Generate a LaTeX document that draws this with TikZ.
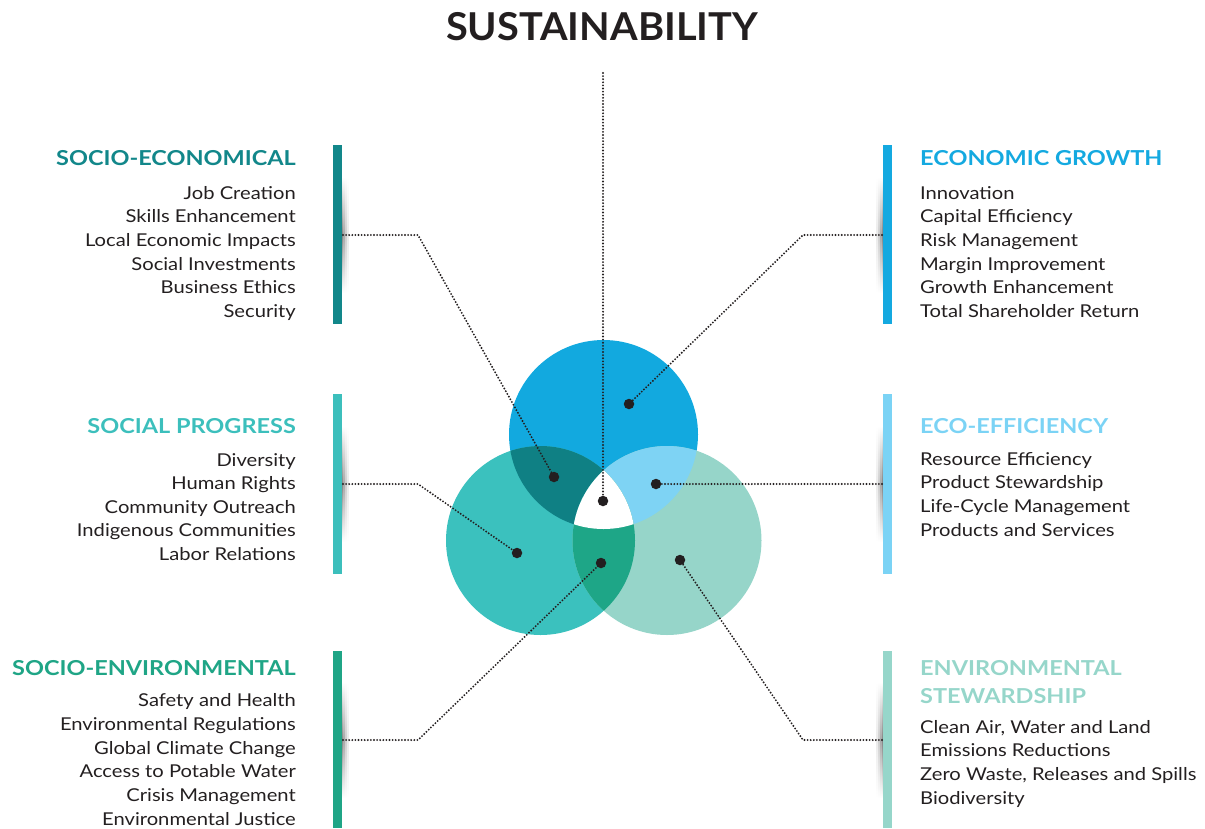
\documentclass[tikz,border=0pt]{standalone}
\usepackage{fontspec}
\setmainfont{Lato}[FakeStretch=1.14]
\newfontfamily\headfont{Lato}[FakeStretch=1.14]
\newfontfamily\titlefont{Lato}[FakeStretch=1.035]
\definecolor{cTop}{HTML}{12A9DF}
\definecolor{cLeft}{HTML}{3BC1BE}
\definecolor{cRight}{HTML}{96D5C9}
\definecolor{cTL}{HTML}{0F8084}
\definecolor{cTR}{HTML}{7ED3F4}
\definecolor{cLR}{HTML}{1EA687}
\definecolor{ink}{HTML}{231F20}
\definecolor{hSE}{HTML}{12878A}
\definecolor{hSP}{HTML}{3CBFBC}
\definecolor{hSV}{HTML}{1FA586}
\definecolor{hEG}{HTML}{14A9E0}
\definecolor{hEE}{HTML}{7BD3F5}
\definecolor{hES}{HTML}{96D6CA}
\tikzset{
  itemL/.style={anchor=base east, inner sep=0pt, text=ink, font=\fontsize{17.7}{20}\selectfont},
  itemR/.style={anchor=base west, inner sep=0pt, text=ink, font=\fontsize{17.7}{20}\selectfont},
  headL/.style={anchor=base east, inner sep=0pt, font=\headfont\bfseries\fontsize{20.6}{22}\selectfont},
  headR/.style={anchor=base west, inner sep=0pt, font=\headfont\bfseries\fontsize{20.6}{22}\selectfont},
  conn/.style={draw=ink, line width=2.1pt, line cap=round, dash pattern=on 0pt off 3.1pt},
  dotn/.style={circle, fill=ink, inner sep=0pt, minimum size=10.5pt},
}
\begin{document}
\begin{tikzpicture}[x=1pt, y=-1pt]
\useasboundingbox (0,0) rectangle (1205,828);
% title
\node[anchor=base, inner sep=0pt, text=ink, font=\titlefont\bfseries\fontsize{38.4}{40}\selectfont] (title) at (602,40) {SUSTAINABILITY};
% Venn circles
\coordinate (T) at (603.5,434.5);
\coordinate (L) at (540.5,540.5);
\coordinate (R) at (667,540.5);
\def\rr{94.5}
\fill[cTop] (T) circle (\rr);
\fill[cLeft] (L) circle (\rr);
\fill[cRight] (R) circle (\rr);
\begin{scope}\clip (T) circle (\rr); \fill[cTL] (L) circle (\rr);\end{scope}
\begin{scope}\clip (T) circle (\rr); \fill[cTR] (R) circle (\rr);\end{scope}
\begin{scope}\clip (L) circle (\rr); \fill[cLR] (R) circle (\rr);\end{scope}
\begin{scope}\clip (T) circle (\rr); \clip (L) circle (\rr); \fill[white] (R) circle (\rr);\end{scope}
% bar shadows
\foreach \y in {235,484,740}{
  \foreach \i/\g in {0/48,1/34,2/20,3/8}{
    \shade[top color=white, bottom color=white, middle color=black!\g] (342+1.6*\i,\y-58) rectangle (343.8+1.6*\i,\y+58);
    \shade[top color=white, bottom color=white, middle color=black!\g] (881.2-1.6*\i,\y-58) rectangle (883-1.6*\i,\y+58);
  }
}
% bars
\fill[hSE] (333,145) rectangle (342,324);
\fill[hSP] (333,394) rectangle (342,574);
\fill[hSV] (333,651) rectangle (342,828);
\fill[hEG] (883,145) rectangle (892,324);
\fill[hEE] (883,394) rectangle (892,574);
\fill[hES] (883,651) rectangle (892,828);
% connector bends and ends
\coordinate (top) at (603,73);
\coordinate (b1) at (343,235); \coordinate (k1) at (418,235);
\coordinate (b2) at (882,235); \coordinate (k2) at (803,235);
\coordinate (b3) at (343,484); \coordinate (k3) at (418,484);
\coordinate (b4) at (882,484);
\coordinate (b5) at (343,740); \coordinate (k5) at (418,740);
\coordinate (b6) at (882,740); \coordinate (k6) at (803,740);
% dot positions
\coordinate (d0) at (603,501);
\coordinate (d1) at (554,477);
\coordinate (d2) at (629,404);
\coordinate (d3) at (517,553);
\coordinate (d4) at (656,484);
\coordinate (d5) at (601,563);
\coordinate (d6) at (680,560);
% connectors
\draw[conn] (top) -- (d0);
\draw[conn] (b1) -- (k1) -- (d1);
\draw[conn] (b2) -- (k2) -- (d2);
\draw[conn] (b3) -- (k3) -- (d3);
\draw[conn] (b4) -- (d4);
\draw[conn] (b5) -- (k5) -- (d5);
\draw[conn] (b6) -- (k6) -- (d6);
% dots
\node[dotn] (n0) at (d0) {};
\node[dotn] (n1) at (d1) {};
\node[dotn] (n2) at (d2) {};
\node[dotn] (n3) at (d3) {};
\node[dotn] (n4) at (d4) {};
\node[dotn] (n5) at (d5) {};
\node[dotn] (n6) at (d6) {};
% Socio-economical
\node[headL, text=hSE] (hse) at (296,165) {SOCIO-ECONOMICAL};
\node[itemL] (se1) at (296,199) {Job Creation};
\node[itemL] (se2) at (296,222.7) {Skills Enhancement};
\node[itemL] (se3) at (296,246.4) {Local Economic Impacts};
\node[itemL] (se4) at (296,270.1) {Social Investments};
\node[itemL] (se5) at (296,293.8) {Business Ethics};
\node[itemL] (se6) at (296,317.5) {Security};
% Social progress
\node[headL, text=hSP] (hsp) at (296,433) {SOCIAL PROGRESS};
\node[itemL] (sp1) at (296,466) {Diversity};
\node[itemL] (sp2) at (296,489.5) {Human Rights};
\node[itemL] (sp3) at (296,513) {Community Outreach};
\node[itemL] (sp4) at (296,536.5) {Indigenous Communities};
\node[itemL] (sp5) at (296,560) {Labor Relations};
% Socio-environmental
\node[headL, text=hSV] (hsv) at (296,675) {SOCIO-ENVIRONMENTAL};
\node[itemL] (sv1) at (296,706.7) {Safety and Health};
\node[itemL] (sv2) at (296,730.4) {Environmental Regulations};
\node[itemL] (sv3) at (296,754.1) {Global Climate Change};
\node[itemL] (sv4) at (296,777.8) {Access to Potable Water};
\node[itemL] (sv5) at (296,801.5) {Crisis Management};
\node[itemL] (sv6) at (296,825.2) {Environmental Justice};
% Economic growth
\node[headR, text=hEG] (heg) at (920,165) {ECONOMIC GROWTH};
\node[itemR] (eg1) at (920,199) {Innovation};
\node[itemR] (eg2) at (920,222.7) {Capital Efficiency};
\node[itemR] (eg3) at (920,246.4) {Risk Management};
\node[itemR] (eg4) at (920,270.1) {Margin Improvement};
\node[itemR] (eg5) at (920,293.8) {Growth Enhancement};
\node[itemR] (eg6) at (920,317.5) {Total Shareholder Return};
% Eco-efficiency
\node[headR, text=hEE] (hee) at (920,433) {ECO-EFFICIENCY};
\node[itemR] (ee1) at (920,465) {Resource Efficiency};
\node[itemR] (ee2) at (920,488.7) {Product Stewardship};
\node[itemR] (ee3) at (920,512.4) {Life-Cycle Management};
\node[itemR] (ee4) at (920,536.1) {Products and Services};
% Environmental stewardship
\node[headR, text=hES] (hes1) at (920,675) {ENVIRONMENTAL};
\node[headR, text=hES] (hes2) at (920,703) {STEWARDSHIP};
\node[itemR] (es1) at (920,733) {Clean Air, Water and Land};
\node[itemR] (es2) at (920,756.7) {Emissions Reductions};
\node[itemR] (es3) at (920,780.4) {Zero Waste, Releases and Spills};
\node[itemR] (es4) at (920,804.1) {Biodiversity};
\end{tikzpicture}
\end{document}
